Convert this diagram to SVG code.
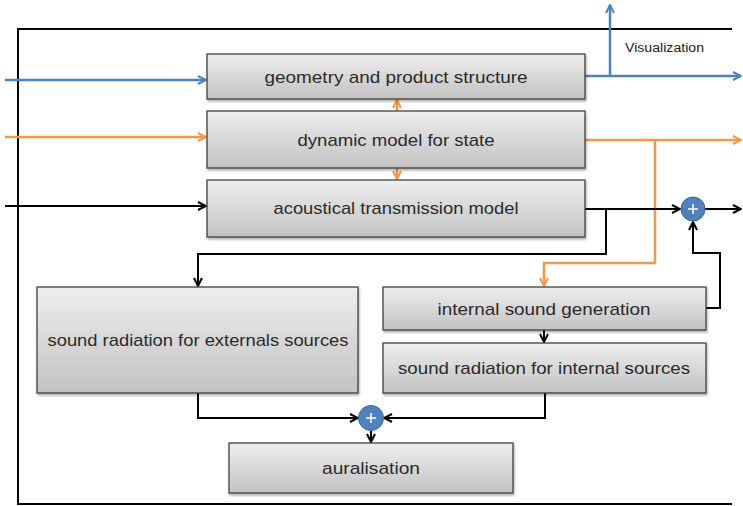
<svg xmlns="http://www.w3.org/2000/svg" width="743" height="506" viewBox="0 0 743 506">
<defs>
<linearGradient id="g" x1="0" y1="0" x2="0" y2="1">
<stop offset="0" stop-color="#eeeeee"/>
<stop offset="1" stop-color="#c2c2c2"/>
</linearGradient>
<filter id="sh" x="-5%" y="-5%" width="110%" height="120%">
<feDropShadow dx="1" dy="2" stdDeviation="1.2" flood-color="#000" flood-opacity="0.3"/>
</filter>
<marker id="ab" viewBox="0 0 10 10" refX="9" refY="5" markerWidth="10" markerHeight="10" markerUnits="userSpaceOnUse" orient="auto">
<path d="M1,1 L9,5 L1,9" fill="none" stroke="#4f81bd" stroke-width="2"/>
</marker>
<marker id="ao" viewBox="0 0 10 10" refX="9" refY="5" markerWidth="10" markerHeight="10" markerUnits="userSpaceOnUse" orient="auto">
<path d="M1,1 L9,5 L1,9" fill="none" stroke="#f79646" stroke-width="2"/>
</marker>
<marker id="ak" viewBox="0 0 10 10" refX="9" refY="5" markerWidth="10" markerHeight="10" markerUnits="userSpaceOnUse" orient="auto">
<path d="M1,1 L9,5 L1,9" fill="none" stroke="#000" stroke-width="2"/>
</marker>
</defs>
<style>
.box{fill:url(#g);stroke:#404040;stroke-width:1.3;filter:url(#sh)}
.t{font-family:"Liberation Sans",Arial,sans-serif;font-size:17px;fill:#2a2a2a;text-anchor:middle;dominant-baseline:central}
.blue{fill:none;stroke:#4f81bd;stroke-width:2.5}
.or{fill:none;stroke:#f79646;stroke-width:2.5}
.bk{fill:none;stroke:#000;stroke-width:2}
.plus{fill:#4f81bd;stroke:#3a6496;stroke-width:1}
</style>
<rect width="743" height="506" fill="#fff"/>
<path d="M732,29 H18 V504 H732" fill="none" stroke="#000" stroke-width="2"/>

<g id="connectors">
<path class="blue" d="M5,80 H206" marker-end="url(#ab)"/>
<path class="blue" d="M585,76 H741" marker-end="url(#ab)"/>
<path class="blue" d="M610,76 V5" marker-end="url(#ab)"/>
<path class="or" d="M5,137 H206" marker-end="url(#ao)"/>
<path class="or" d="M585,140 H741" marker-end="url(#ao)"/>
<path class="or" d="M655,140 V263 H544 V286" marker-end="url(#ao)"/>
<path class="or" d="M397,111 V100" marker-end="url(#ao)"/>
<path class="or" d="M397,168 V179" marker-end="url(#ao)"/>
<path class="bk" d="M5,206 H206" marker-end="url(#ak)"/>
<path class="bk" d="M585,209 H680" marker-end="url(#ak)"/>
<path class="bk" d="M705,209 H741" marker-end="url(#ak)"/>
<path class="bk" d="M606,209 V254 H198 V286" marker-end="url(#ak)"/>
<path class="bk" d="M706,308 H720 V253 H693 V222" marker-end="url(#ak)"/>
<path class="bk" d="M544,330 V342" marker-end="url(#ak)"/>
<path class="bk" d="M198,393 V418 H358" marker-end="url(#ak)"/>
<path class="bk" d="M545,393 V418 H384" marker-end="url(#ak)"/>
<path class="bk" d="M371,431 V442" marker-end="url(#ak)"/>
</g>

<g id="sum1"><circle class="plus" cx="693" cy="209" r="12"/><path d="M688,209 H698 M693,204 V214" stroke="#fff" stroke-width="1.5"/></g>
<g id="sum2"><circle class="plus" cx="371" cy="418" r="12.5"/><path d="M366,418 H376 M371,413 V423" stroke="#fff" stroke-width="1.5"/></g>

<g id="geometry"><rect class="box" x="207" y="54" width="378" height="45"/><text class="t" x="396" y="77" textLength="263" lengthAdjust="spacingAndGlyphs">geometry and product structure</text></g>
<g id="dynamic"><rect class="box" x="207" y="111" width="378" height="57"/><text class="t" x="396" y="140" textLength="197" lengthAdjust="spacingAndGlyphs">dynamic model for state</text></g>
<g id="acoustical"><rect class="box" x="207" y="180" width="378" height="57"/><text class="t" x="396" y="208" textLength="245" lengthAdjust="spacingAndGlyphs">acoustical transmission model</text></g>
<g id="external"><rect class="box" x="37" y="287" width="321" height="106"/><text class="t" x="198" y="340" textLength="301" lengthAdjust="spacingAndGlyphs">sound radiation for externals sources</text></g>
<g id="internalgen"><rect class="box" x="383" y="287" width="323" height="43"/><text class="t" x="544" y="309" textLength="213" lengthAdjust="spacingAndGlyphs">internal sound generation</text></g>
<g id="internalrad"><rect class="box" x="383" y="343" width="323" height="50"/><text class="t" x="544" y="368" textLength="292" lengthAdjust="spacingAndGlyphs">sound radiation for internal sources</text></g>
<g id="auralisation"><rect class="box" x="229" y="443" width="284" height="50"/><text class="t" x="371" y="468" textLength="98" lengthAdjust="spacingAndGlyphs">auralisation</text></g>
<text x="625" y="52" font-family="'Liberation Sans',Arial,sans-serif" font-size="12" fill="#222" textLength="79" lengthAdjust="spacingAndGlyphs">Visualization</text>
</svg>
